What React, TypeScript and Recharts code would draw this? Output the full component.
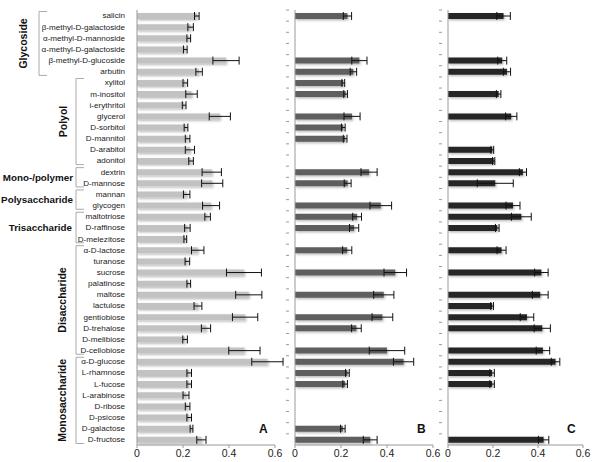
import { BarChart, Bar, XAxis, YAxis, ErrorBar } from 'recharts';

const categories = [
  'salicin', 'β-methyl-D-galactoside', 'α-methyl-D-mannoside', 'α-methyl-D-galactoside',
  'β-methyl-D-glucoside', 'arbutin', 'xylitol', 'm-inositol', 'i-erythritol', 'glycerol',
  'D-sorbitol', 'D-mannitol', 'D-arabitol', 'adonitol', 'dextrin', 'D-mannose', 'mannan',
  'glycogen', 'maltotriose', 'D-raffinose', 'D-melezitose', 'α-D-lactose', 'turanose',
  'sucrose', 'palatinose', 'maltose', 'lactulose', 'gentiobiose', 'D-trehalose',
  'D-melibiose', 'D-cellobiose', 'α-D-glucose', 'L-rhamnose', 'L-fucose', 'L-arabinose',
  'D-ribose', 'D-psicose', 'D-galactose', 'D-fructose',
];

const valA = [
  0.26, 0.233, 0.225, 0.21, 0.387, 0.27, 0.21, 0.237, 0.205, 0.36,
  0.213, 0.22, 0.23, 0.235, 0.325, 0.327, 0.216, 0.322, 0.307, 0.219,
  0.21, 0.264, 0.219, 0.465, 0.225, 0.486, 0.265, 0.47, 0.3, 0.209,
  0.467, 0.567, 0.227, 0.227, 0.213, 0.22, 0.227, 0.237, 0.28,
];
const errA = [
  0.01, 0.012, 0.008, 0.008, 0.057, 0.014, 0.01, 0.025, 0.008, 0.046,
  0.008, 0.01, 0.02, 0.01, 0.042, 0.046, 0.014, 0.037, 0.012, 0.012,
  0.006, 0.027, 0.01, 0.076, 0.008, 0.057, 0.017, 0.055, 0.02, 0.01,
  0.068, 0.068, 0.01, 0.01, 0.013, 0.01, 0.01, 0.006, 0.02,
];

const valB = [
  0.228, null, null, null, 0.28, 0.254, 0.21, 0.22, null, 0.248,
  0.21, 0.218, null, null, 0.322, 0.229, null, 0.373, 0.27, 0.257,
  null, 0.227, null, 0.436, null, 0.386, null, 0.38, 0.267, null,
  0.4, 0.472, 0.228, 0.218, null, null, null, 0.208, 0.327,
];
const errB = [
  0.018, null, null, null, 0.033, 0.014, 0.006, 0.008, null, 0.035,
  0.008, 0.008, null, null, 0.035, 0.015, null, 0.047, 0.019, 0.02,
  null, 0.02, null, 0.049, null, 0.044, null, 0.045, 0.021, null,
  0.077, 0.044, 0.008, 0.01, null, null, null, 0.01, 0.03,
];

const valC = [
  0.247, null, null, null, 0.241, 0.262, null, 0.225, null, 0.281,
  null, null, 0.197, 0.203, 0.333, 0.21, null, 0.289, 0.326, 0.219,
  null, 0.238, null, 0.415, null, 0.41, 0.196, 0.351, 0.419, null,
  0.422, 0.478, 0.196, 0.196, null, null, null, null, 0.425,
];
const errC = [
  0.03, null, null, null, 0.02, 0.016, null, 0.01, null, 0.025,
  null, null, 0.006, 0.005, 0.016, 0.08, null, 0.031, 0.044, 0.008,
  null, 0.02, null, 0.03, null, 0.035, 0.006, 0.03, 0.036, null,
  0.03, 0.019, 0.01, 0.01, null, null, null, null, 0.023,
];

const xTicks = [0, 0.2, 0.4, 0.6];

const groups = [
  { label: 'Glycoside', first: 0, last: 5, rotated: true, bx: 39, tx: 23 },
  { label: 'Polyol', first: 6, last: 13, rotated: true, bx: 76, tx: 63 },
  { label: 'Mono-/polymer', first: 14, last: 15, rotated: false, bx: 76, tx: 73 },
  { label: 'Polysaccharide', first: 16, last: 17, rotated: false, bx: 76, tx: 73 },
  { label: 'Trisaccharide', first: 18, last: 20, rotated: false, bx: 76, tx: 72 },
  { label: 'Disaccharide', first: 21, last: 30, rotated: true, bx: 76, tx: 62 },
  { label: 'Monosaccharide', first: 31, last: 38, rotated: true, bx: 76, tx: 62 },
];

const rows = categories.map((name, i) => ({
  name,
  a: valA[i], ea: errA[i],
  b: valB[i], eb: errB[i],
  c: valC[i], ec: errC[i],
}));

const FONT = '"Liberation Sans", Arial, sans-serif';
const H = 462;
const TOP = 10;
const XAXIS_H = 17;
const step = (H - TOP - XAXIS_H) / categories.length;

// small tick marks sitting on the category boundaries (Excel style)
const BoundaryTick = (props: any) => {
  const { x, y } = props;
  return <line x1={x - 3} x2={x} y1={y - step / 2} y2={y - step / 2} stroke="#999" />;
};

const Panel = ({ dataKey, errKey, color, left, width, axisWidth, right, labels, letter }: any) => (
  <div style={{ position: 'absolute', left, top: 0 }}>
    <BarChart
      width={width}
      height={H}
      data={rows}
      layout="vertical"
      barCategoryGap={0}
      margin={{ top: TOP, right, bottom: 0, left: 0 }}
    >
      <defs>
        <filter id={`sh-${dataKey}`} x="-10%" y="-50%" width="130%" height="250%">
          <feDropShadow dx="1.2" dy="1.4" stdDeviation="0.8" floodColor="#000" floodOpacity="0.28" />
        </filter>
      </defs>
      <XAxis
        type="number"
        domain={[0, 0.6]}
        ticks={xTicks}
        allowDataOverflow
        height={XAXIS_H}
        tickSize={3}
        stroke="#999"
        tick={{ fill: '#222', fontSize: 10.5, fontFamily: FONT }}
        tickFormatter={(v: number) => String(v)}
      />
      <YAxis
        type="category"
        dataKey="name"
        width={axisWidth}
        interval={0}
        stroke="#999"
        tickLine={false}
        tick={labels ? { fill: '#222', fontSize: 8.1, fontFamily: FONT } : <BoundaryTick />}
        tickMargin={labels ? 6 : 0}
      />
      <Bar dataKey={dataKey} fill={color} barSize={6} isAnimationActive={false} filter={`url(#sh-${dataKey})`}>
        <ErrorBar dataKey={errKey} direction="x" width={4} stroke="#111" strokeWidth={1} />
      </Bar>
    </BarChart>
    <div
      style={{
        position: 'absolute', left: width - right - 16, top: 422,
        fontFamily: FONT, fontWeight: 'bold', fontSize: 12, color: '#111',
      }}
    >
      {letter}
    </div>
  </div>
);

export default function App() {
  return (
    <div style={{ position: 'absolute', left: 0, top: 0, width: 600, height: H, background: '#fff' }}>
      <svg width={600} height={H} style={{ position: 'absolute', left: 0, top: 0 }}>
        {groups.map((g) => {
          const y1 = TOP + g.first * step + 1.5;
          const y2 = TOP + (g.last + 1) * step - 1.5;
          const mid = (y1 + y2) / 2;
          return (
            <g key={g.label}>
              <polyline
                points={`${g.bx + 8},${y1} ${g.bx},${y1} ${g.bx},${y2} ${g.bx + 8},${y2}`}
                fill="none"
                stroke="#aaa"
              />
              {g.rotated ? (
                <text
                  transform={`translate(${g.tx},${mid}) rotate(-90)`}
                  textAnchor="middle"
                  dominantBaseline="central"
                  fontFamily={FONT}
                  fontWeight="bold"
                  fontSize={10.5}
                  fill="#111"
                >
                  {g.label}
                </text>
              ) : (
                <text
                  x={g.tx}
                  y={mid}
                  textAnchor="end"
                  dominantBaseline="central"
                  fontFamily={FONT}
                  fontWeight="bold"
                  fontSize={9.8}
                  fill="#111"
                >
                  {g.label}
                </text>
              )}
            </g>
          );
        })}
      </svg>
      <Panel dataKey="a" errKey="ea" color="#c2c2c2" left={0} width={290} axisWidth={137} right={15} labels letter="A" />
      <Panel dataKey="b" errKey="eb" color="#5e5e5e" left={280} width={165} axisWidth={15} right={12} letter="B" />
      <Panel dataKey="c" errKey="ec" color="#262626" left={433} width={165} axisWidth={15} right={15} letter="C" />
    </div>
  );
}
